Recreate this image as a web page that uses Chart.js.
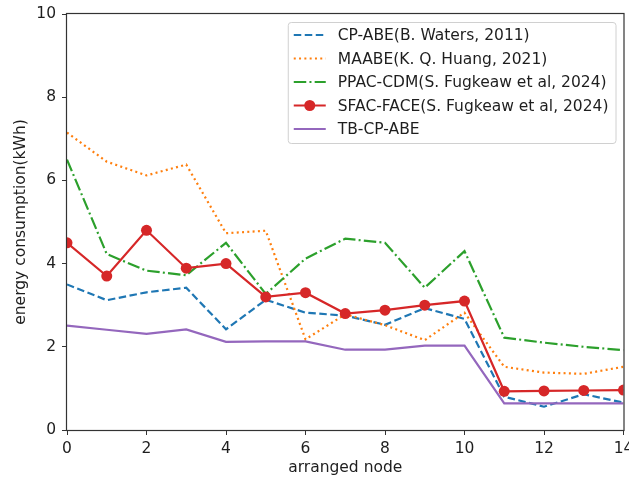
<!DOCTYPE html>
<html>
<head>
<meta charset="utf-8">
<script src="https://cdn.jsdelivr.net/npm/chart.js@4.4.1/dist/chart.umd.min.js"></script>
<style>
    html, body { margin: 0; padding: 0; background: #fff; }
    #wrap { width: 629px; height: 478px; }
</style>
</head>
<body>
<div id="wrap"><canvas id="energy-chart" width="629" height="478"></canvas></div>
<script>
// --- Data ---
const nodes = [0, 1, 2, 3, 4, 5, 6, 7, 8, 9, 10, 11, 12, 13, 14];
const xTicks = [0, 2, 4, 6, 8, 10, 12, 14];
const yTicks = [0, 2, 4, 6, 8, 10];

const cpAbe   = [3.50, 3.12, 3.31, 3.42, 2.42, 3.13, 2.82, 2.75, 2.53, 2.93, 2.67, 0.80, 0.56, 0.86, 0.66];
const maabe   = [7.15, 6.45, 6.12, 6.38, 4.73, 4.79, 2.18, 2.78, 2.52, 2.16, 2.82, 1.52, 1.38, 1.35, 1.52];
const ppacCdm = [6.50, 4.23, 3.83, 3.72, 4.50, 3.27, 4.12, 4.60, 4.50, 3.42, 4.30, 2.22, 2.10, 2.00, 1.92];
const sfacFace = [4.50, 3.70, 4.80, 3.89, 4.00, 3.20, 3.30, 2.80, 2.88, 3.00, 3.10, 0.93, 0.94, 0.95, 0.96];
const tbCpAbe = [2.51, 2.41, 2.31, 2.42, 2.12, 2.13, 2.13, 1.93, 1.93, 2.03, 2.03, 0.64, 0.64, 0.64, 0.64];

const FONT = "'DejaVu Sans', sans-serif";
const FONT_SIZE = 15.5;
const TEXT = '#1e1e1e';

const toPoints = values => values.map((v, i) => ({ x: nodes[i], y: v }));

// Draws the four spines like matplotlib does
const frame = {
    id: 'frame',
    afterDatasetsDraw(chart) {
        const { ctx, chartArea: a } = chart;
        ctx.save();
        ctx.strokeStyle = '#333';
        ctx.lineWidth = 1.2;
        ctx.strokeRect(a.left - 0.5, a.top - 0.5, a.right - a.left + 1, a.bottom - a.top + 1);
        ctx.restore();
    }
};

// Legend drawn inside the plot, top right
const insideLegend = {
    id: 'insideLegend',
    afterDatasetsDraw(chart, args, opts) {
        const { ctx, chartArea: a } = chart;
        const sets = chart.data.datasets;
        ctx.save();
        ctx.font = opts.font;
        const textW = Math.max(...sets.map(d => ctx.measureText(d.label).width));
        const w = opts.textX + textW + opts.padRight;
        const h = opts.firstRow + (sets.length - 1) * opts.rowGap + opts.lastPad;
        const left = a.right - opts.margin - w;
        const top = a.top + opts.margin;

        ctx.beginPath();
        ctx.roundRect(left + 0.5, top + 0.5, w, h, 3);
        ctx.fillStyle = 'rgba(255,255,255,0.8)';
        ctx.fill();
        ctx.strokeStyle = '#d0d0d0';
        ctx.lineWidth = 1;
        ctx.stroke();

        sets.forEach((d, i) => {
            const y = top + opts.firstRow + i * opts.rowGap;
            ctx.strokeStyle = d.borderColor;
            ctx.lineWidth = d.borderWidth;
            ctx.setLineDash(d.borderDash || []);
            ctx.beginPath();
            ctx.moveTo(left + opts.lineX, y);
            ctx.lineTo(left + opts.lineX + opts.lineW, y);
            ctx.stroke();
            ctx.setLineDash([]);
            if (d.pointRadius > 0) {
                ctx.beginPath();
                ctx.arc(left + opts.lineX + opts.lineW / 2, y, d.pointRadius, 0, Math.PI * 2);
                ctx.fillStyle = d.pointBackgroundColor;
                ctx.fill();
            }
            ctx.fillStyle = TEXT;
            ctx.textBaseline = 'middle';
            ctx.textAlign = 'left';
            ctx.fillText(d.label, left + opts.textX, y + 1);
        });
        ctx.restore();
    }
};

const lineSet = (label, values, color, dash, order) => ({
    label: label,
    data: toPoints(values),
    borderColor: color,
    backgroundColor: color,
    borderWidth: 2.2,
    borderDash: dash,
    pointRadius: 0,
    pointHoverRadius: 0,
    tension: 0,
    fill: false,
    order: order
});

const sfacSet = lineSet('SFAC-FACE(S. Fugkeaw et al, 2024)', sfacFace, '#d62728', [], 2);
sfacSet.pointRadius = 5.5;
sfacSet.pointBackgroundColor = '#d62728';
sfacSet.pointBorderColor = '#d62728';
sfacSet.pointBorderWidth = 0;

new Chart(document.getElementById('energy-chart'), {
    type: 'line',
    data: {
        datasets: [
            lineSet('CP-ABE(B. Waters, 2011)', cpAbe, '#1f77b4', [7.5, 3.5], 5),
            lineSet('MAABE(K. Q. Huang, 2021)', maabe, '#ff7f0e', [2, 3.3], 4),
            lineSet('PPAC-CDM(S. Fugkeaw et al, 2024)', ppacCdm, '#2ca02c', [12.5, 3.2, 2, 3.2], 3),
            sfacSet,
            lineSet('TB-CP-ABE', tbCpAbe, '#9467bd', [], 1)
        ]
    },
    options: {
        responsive: false,
        animation: false,
        layout: { padding: { top: 14, right: 4, bottom: 0, left: 0 } },
        plugins: {
            legend: { display: false },
            tooltip: { enabled: false },
            insideLegend: {
                font: FONT_SIZE + 'px ' + FONT,
                margin: 8,
                lineX: 6,
                lineW: 32,
                textX: 50,
                padRight: 7,
                firstRow: 13,
                rowGap: 23.5,
                lastPad: 14
            }
        },
        scales: {
            x: {
                type: 'linear',
                min: 0,
                max: 14,
                afterBuildTicks: scale => { scale.ticks = xTicks.map(v => ({ value: v })); },
                afterFit: scale => {
                    scale.height = 48;
                    scale.paddingLeft = 0;
                    scale.paddingRight = 0;
                },
                border: { display: false },
                grid: { drawOnChartArea: false, drawTicks: true, tickLength: 5, color: '#333' },
                ticks: { color: TEXT, font: { family: FONT, size: FONT_SIZE }, padding: 5, maxRotation: 0 },
                title: { display: true, text: 'arranged node', color: TEXT, font: { family: FONT, size: FONT_SIZE }, padding: { top: 0, bottom: 1 } }
            },
            y: {
                type: 'linear',
                min: 0,
                max: 10,
                afterBuildTicks: scale => { scale.ticks = yTicks.map(v => ({ value: v })); },
                afterFit: scale => {
                    scale.width = 67;
                    scale.paddingTop = 0;
                    scale.paddingBottom = 0;
                },
                border: { display: false },
                grid: { drawOnChartArea: false, drawTicks: true, tickLength: 5, color: '#333' },
                ticks: { color: TEXT, font: { family: FONT, size: FONT_SIZE }, padding: 6 },
                title: { display: true, text: 'energy consumption(kWh)', color: TEXT, font: { family: FONT, size: FONT_SIZE }, padding: { top: 12, bottom: 0 } }
            }
        }
    },
    plugins: [frame, insideLegend]
});
</script>
</body>
</html>
